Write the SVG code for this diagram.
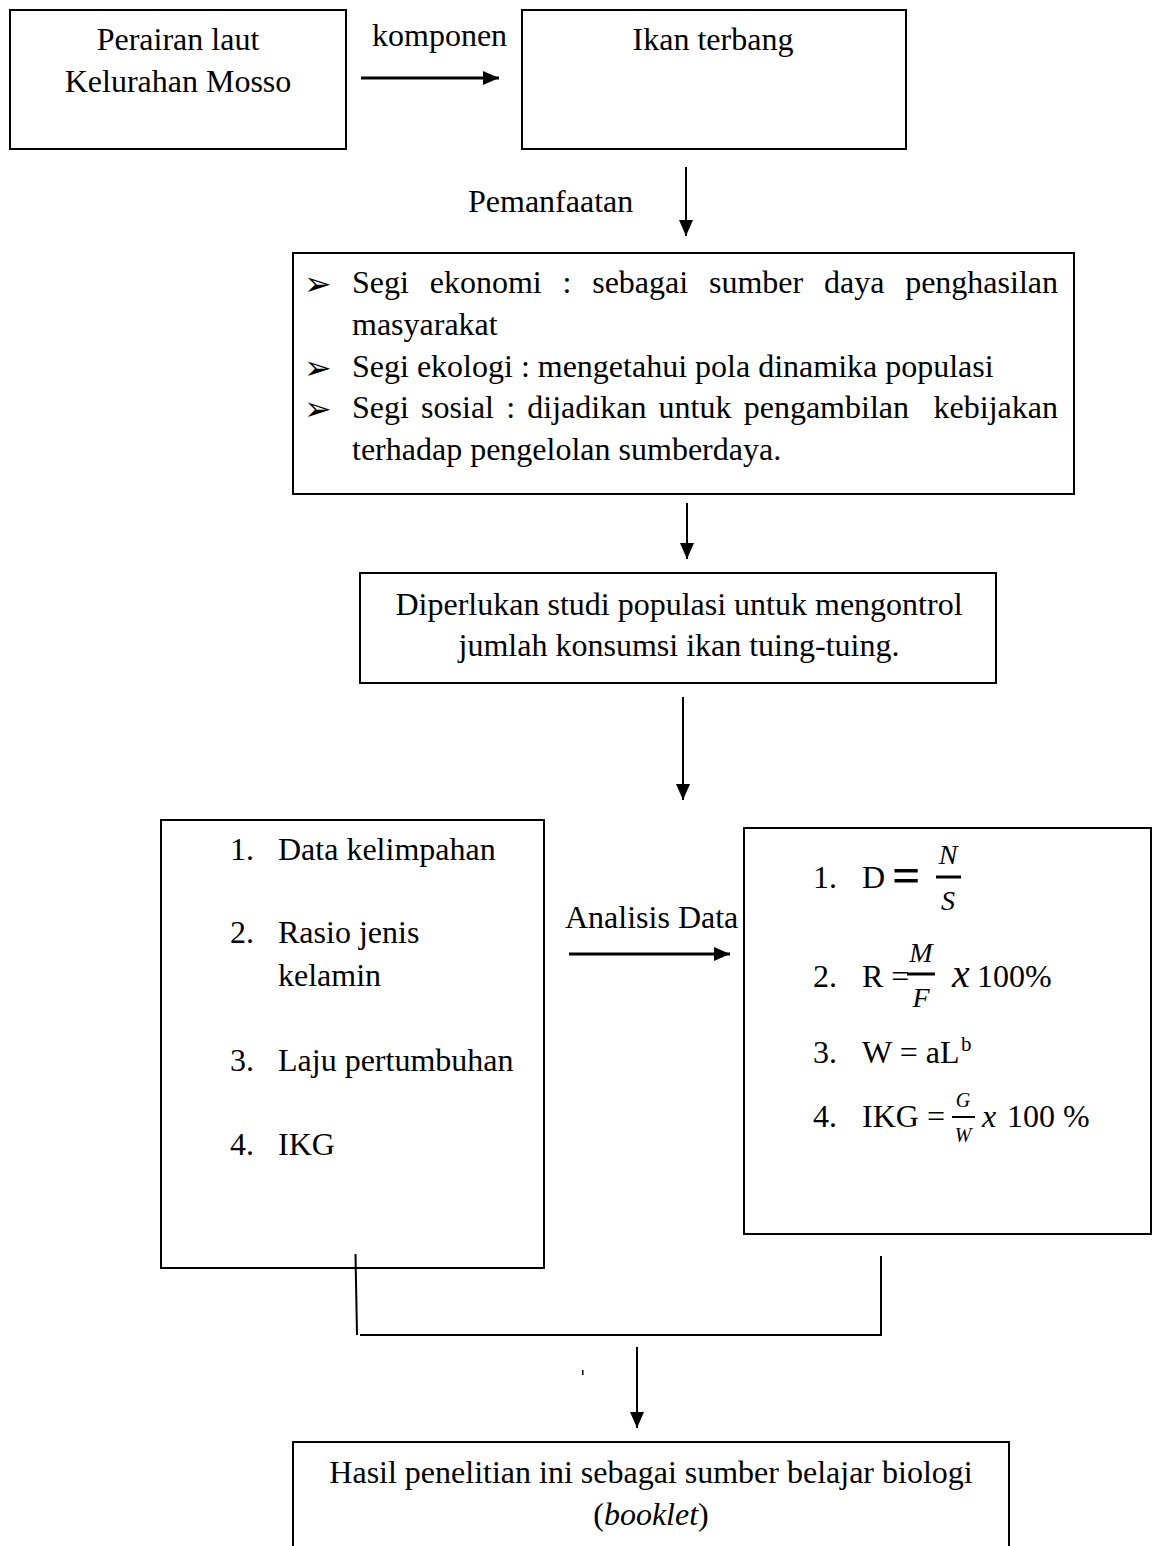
<svg xmlns="http://www.w3.org/2000/svg" width="1155" height="1546" viewBox="0 0 1155 1546">
  <style>
    .box { fill: #fff; stroke: #000; stroke-width: 2; }
    .open { fill: none; stroke: #000; stroke-width: 2; }
    .t { font-family: "Liberation Serif", "Times New Roman", serif; font-size: 32px; fill: #000; }
    .c { text-anchor: middle; }
    .e { text-anchor: end; }
    .it { font-style: italic; }
    .bul { font-family: "DejaVu Sans", sans-serif; font-size: 33px; fill: #000; }
    .conn { stroke: #000; stroke-width: 2; fill: none; }
    .thick { stroke-width: 3; }
    .bar { stroke: #000; fill: none; }
  </style>
  <defs>
    <marker id="arrow" markerUnits="userSpaceOnUse" markerWidth="16" markerHeight="14" refX="16" refY="7" orient="auto">
      <path d="M0,0 L16,7 L0,14 z" fill="#000"/>
    </marker>
  </defs>

  <g id="node-perairan">
    <rect class="box" x="10" y="10" width="336" height="139"/>
    <text class="t c" x="178" y="50">Perairan laut</text>
    <text class="t c" x="178" y="92">Kelurahan Mosso</text>
  </g>

  <g id="node-ikan">
    <rect class="box" x="522" y="10" width="384" height="139"/>
    <text class="t c" x="713" y="50">Ikan terbang</text>
  </g>

  <g id="node-pemanfaatan">
    <rect class="box" x="293" y="253" width="781" height="241"/>
    <text class="bul" x="304" y="295">➢</text>
    <text class="t" x="352" y="293">Segi</text>
    <text class="t" x="429.7" y="293">ekonomi</text>
    <text class="t" x="562.5" y="293">:</text>
    <text class="t" x="592.2" y="293">sebagai</text>
    <text class="t" x="709" y="293">sumber</text>
    <text class="t" x="824" y="293">daya</text>
    <text class="t e" x="1058" y="293">penghasilan</text>
    <text class="t" x="352" y="335">masyarakat</text>
    <text class="bul" x="304" y="379">➢</text>
    <text class="t" x="352" y="377">Segi ekologi : mengetahui pola dinamika populasi</text>
    <text class="bul" x="304" y="420">➢</text>
    <text class="t" x="352" y="418">Segi</text>
    <text class="t" x="421.1" y="418">sosial</text>
    <text class="t" x="506.2" y="418">:</text>
    <text class="t" x="527.3" y="418">dijadikan</text>
    <text class="t" x="658.6" y="418">untuk</text>
    <text class="t" x="743.7" y="418">pengambilan</text>
    <text class="t e" x="1058" y="418">kebijakan</text>
    <text class="t" x="352" y="460">terhadap pengelolan sumberdaya.</text>
  </g>

  <g id="node-studi">
    <rect class="box" x="360" y="573" width="636" height="110"/>
    <text class="t c" x="679" y="615">Diperlukan studi populasi untuk mengontrol</text>
    <text class="t c" x="679" y="656">jumlah konsumsi ikan tuing-tuing.</text>
  </g>

  <g id="node-data">
    <rect class="box" x="161" y="820" width="383" height="448"/>
    <text class="t" x="230" y="860">1.</text>
    <text class="t" x="278" y="860">Data kelimpahan</text>
    <text class="t" x="230" y="943">2.</text>
    <text class="t" x="278" y="943">Rasio jenis</text>
    <text class="t" x="278" y="986">kelamin</text>
    <text class="t" x="230" y="1071">3.</text>
    <text class="t" x="278" y="1071">Laju pertumbuhan</text>
    <text class="t" x="230" y="1155">4.</text>
    <text class="t" x="278" y="1155">IKG</text>
  </g>

  <g id="node-rumus">
    <rect class="box" x="744" y="828" width="407" height="406"/>
    <!-- 1 -->
    <text class="t" x="813" y="888">1.</text>
    <text class="t" x="862" y="888">D</text>
    <text class="t" x="892" y="892" style="font-size:50px;font-weight:bold">=</text>
    <text class="t it c" x="948" y="864" style="font-size:28px">N</text>
    <line class="bar" x1="936" y1="877" x2="961" y2="877" stroke-width="3"/>
    <text class="t it c" x="948" y="910" style="font-size:28px">S</text>
    <!-- 2 -->
    <text class="t" x="813" y="987">2.</text>
    <text class="t" x="862" y="987">R =</text>
    <text class="t it c" x="921" y="962" style="font-size:28px">M</text>
    <line class="bar" x1="907" y1="974" x2="935" y2="974" stroke-width="3"/>
    <text class="t it c" x="921" y="1007" style="font-size:28px">F</text>
    <text class="t it" x="952" y="987" style="font-size:40px">x</text>
    <text class="t" x="977" y="987">100%</text>
    <!-- 3 -->
    <text class="t" x="813" y="1063">3.</text>
    <text class="t" x="862" y="1063">W = aL</text>
    <text class="t" x="961" y="1051" style="font-size:21px">b</text>
    <!-- 4 -->
    <text class="t" x="813" y="1127">4.</text>
    <text class="t" x="862" y="1127">IKG =</text>
    <text class="t it c" x="963" y="1107" style="font-size:20px">G</text>
    <line class="bar" x1="952" y1="1117" x2="975" y2="1117" stroke-width="2"/>
    <text class="t it c" x="963" y="1142" style="font-size:20px">W</text>
    <text class="t it" x="982" y="1127">x</text>
    <text class="t" x="1007" y="1127">100 %</text>
  </g>

  <g id="node-hasil">
    <path class="open" d="M293,1546 V1442 H1009 V1546"/>
    <text class="t c" x="651" y="1483">Hasil penelitian ini sebagai sumber belajar biologi</text>
    <text class="t c" x="651" y="1525">(<tspan class="it">booklet</tspan>)</text>
  </g>

  <g id="connectors">
    <line class="conn thick" x1="361" y1="78" x2="499" y2="78" marker-end="url(#arrow)"/>
    <text class="t" x="372" y="46">komponen</text>
    <line class="conn" x1="686" y1="167" x2="686" y2="236" marker-end="url(#arrow)"/>
    <text class="t" x="468" y="212">Pemanfaatan</text>
    <line class="conn" x1="687" y1="503" x2="687" y2="559" marker-end="url(#arrow)"/>
    <line class="conn" x1="683" y1="697" x2="683" y2="800" marker-end="url(#arrow)"/>
    <line class="conn thick" x1="569" y1="954" x2="730" y2="954" marker-end="url(#arrow)"/>
    <text class="t" x="565" y="928">Analisis Data</text>
    <line class="conn" x1="355.5" y1="1254" x2="357" y2="1335"/>
    <line class="conn" x1="360" y1="1335" x2="882" y2="1335"/>
    <line class="conn" x1="881" y1="1256" x2="881" y2="1336"/>
    <line class="conn" x1="637" y1="1347" x2="637" y2="1428" marker-end="url(#arrow)"/>
    <rect x="582" y="1370" width="1.5" height="5" fill="#000"/>
  </g>
</svg>
